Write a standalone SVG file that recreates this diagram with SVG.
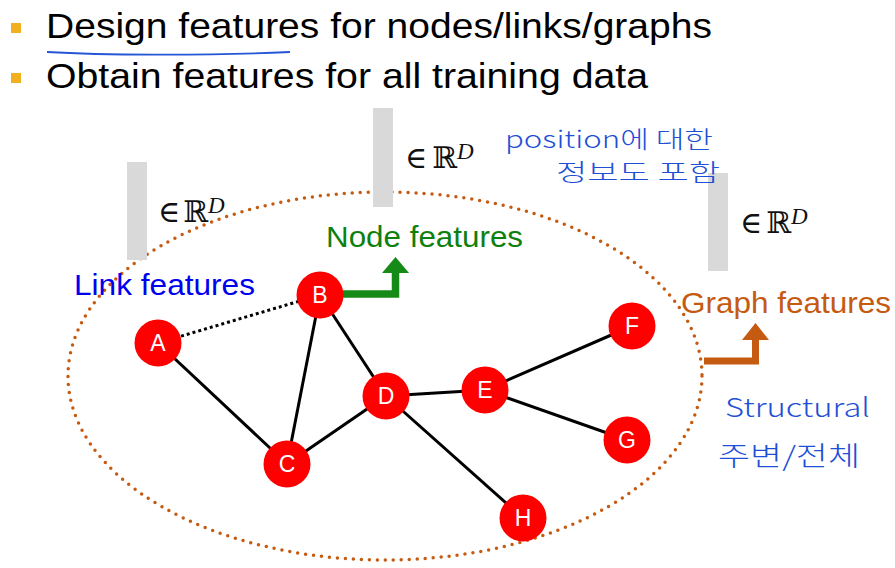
<svg xmlns="http://www.w3.org/2000/svg" width="895" height="568" viewBox="0 0 895 568">
<style>
.bul{fill:#f2b01e}
.title{font-family:"Liberation Sans",Arial,sans-serif;font-size:35px;fill:#000}
.bar{fill:#d9d9d9}
.math{font-family:"DejaVu Serif","DejaVu Sans",serif;font-size:30px;fill:#111}
.sup{font-family:"Liberation Serif",serif;font-style:italic;font-size:23px}
.flab{font-family:"Liberation Sans",Arial,sans-serif;font-size:30px}
.edge{stroke:#000;stroke-width:3;fill:none}
.nd circle{fill:#fe0000}
.nd text{font-family:"Liberation Sans",Arial,sans-serif;font-size:23px;fill:#fff;text-anchor:middle}
.hand{font-family:"Noto Sans CJK KR","Noto Sans",sans-serif;font-weight:300;fill:#1f4fd6}
</style>
<rect width="895" height="568" fill="#fff"/>
<g id="bullets">
<rect class="bul" x="11" y="23" width="10" height="10"/>
<rect class="bul" x="11" y="73" width="10" height="10"/>
<text class="title" x="46" y="38" textLength="666" lengthAdjust="spacingAndGlyphs">Design features for nodes/links/graphs</text>
<text class="title" x="46" y="88" textLength="602" lengthAdjust="spacingAndGlyphs">Obtain features for all training data</text>
<path d="M47 52 C100 55 200 56 290 52" stroke="#2456d6" stroke-width="1.8" fill="none"/>
</g>
<g id="graph-region">
<ellipse cx="385" cy="376" rx="317" ry="184" fill="none" stroke="#c55a11" stroke-width="3.5" stroke-dasharray="0 8" stroke-linecap="round"/>
</g>
<g id="link-feature">
<rect class="bar" x="127" y="162" width="20" height="98"/>
<text class="math" y="222"><tspan x="158">∈</tspan><tspan x="183">ℝ</tspan><tspan class="sup" x="208" dy="-9">D</tspan></text>
<text class="flab" x="74" y="295" fill="#0000f0" textLength="181" lengthAdjust="spacingAndGlyphs">Link features</text>
</g>
<g id="node-feature">
<rect class="bar" x="373" y="108" width="20" height="99"/>
<text class="math" y="168"><tspan x="405">∈</tspan><tspan x="432">ℝ</tspan><tspan class="sup" x="457" dy="-9">D</tspan></text>
<text class="flab" x="326" y="247" fill="#0e800e" textLength="197" lengthAdjust="spacingAndGlyphs">Node features</text>
</g>
<g id="graph-feature">
<rect class="bar" x="708" y="173" width="20" height="98"/>
<text class="math" y="233"><tspan x="740">∈</tspan><tspan x="766">ℝ</tspan><tspan class="sup" x="791" dy="-9">D</tspan></text>
<text class="flab" x="681" y="313" fill="#c55a11" textLength="210" lengthAdjust="spacingAndGlyphs">Graph features</text>
</g>
<g id="connectors">
<line class="edge" x1="158" y1="343" x2="320" y2="295" stroke-dasharray="3 3"/>
<line class="edge" x1="158" y1="343" x2="287" y2="464"/>
<line class="edge" x1="320" y1="295" x2="287" y2="464"/>
<line class="edge" x1="320" y1="295" x2="386" y2="396"/>
<line class="edge" x1="287" y1="464" x2="386" y2="396"/>
<line class="edge" x1="386" y1="396" x2="485" y2="390"/>
<line class="edge" x1="386" y1="396" x2="523" y2="518"/>
<line class="edge" x1="485" y1="390" x2="632" y2="326"/>
<line class="edge" x1="485" y1="390" x2="627" y2="440"/>
<path d="M343 294 H395.5 V272" stroke="#168a16" stroke-width="7.5" fill="none"/>
<polygon points="382,273 409,273 395.5,257" fill="#168a16"/>
<path d="M704 361 H755.5 V339" stroke="#c55a11" stroke-width="7" fill="none"/>
<polygon points="742,340 769,340 755.5,323" fill="#c55a11"/>
</g>
<g id="node-A" class="nd"><circle cx="158" cy="343" r="23.5"/><text x="158" y="351">A</text></g>
<g id="node-B" class="nd"><circle cx="320" cy="295" r="23.5"/><text x="320" y="303">B</text></g>
<g id="node-C" class="nd"><circle cx="287" cy="464" r="23.5"/><text x="287" y="472">C</text></g>
<g id="node-D" class="nd"><circle cx="386" cy="396" r="23.5"/><text x="386" y="404">D</text></g>
<g id="node-E" class="nd"><circle cx="485" cy="390" r="23.5"/><text x="485" y="398">E</text></g>
<g id="node-F" class="nd"><circle cx="632" cy="326" r="23.5"/><text x="632" y="334">F</text></g>
<g id="node-G" class="nd"><circle cx="627" cy="440" r="23.5"/><text x="627" y="448">G</text></g>
<g id="node-H" class="nd"><circle cx="523" cy="518" r="23.5"/><text x="523" y="526">H</text></g>
<g id="annotations">
<text class="hand" x="505" y="148" font-size="24" textLength="208" lengthAdjust="spacingAndGlyphs">position에 대한</text>
<text class="hand" x="556" y="181" font-size="24" textLength="164" lengthAdjust="spacingAndGlyphs">정보도 포함</text>
<text class="hand" x="725" y="417" font-size="26" textLength="145" lengthAdjust="spacingAndGlyphs">Structural</text>
<text class="hand" x="718" y="466" font-size="27" textLength="142" lengthAdjust="spacingAndGlyphs">주변/전체</text>
</g>
</svg>
